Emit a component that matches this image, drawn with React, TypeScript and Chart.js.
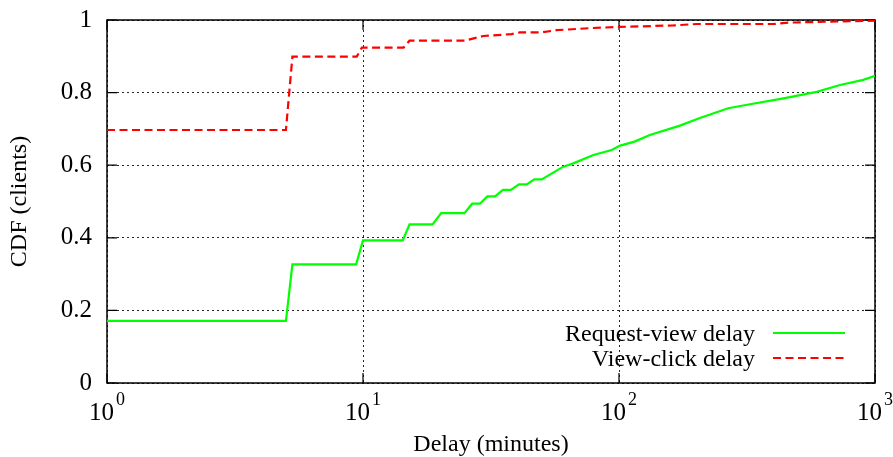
import React, { useEffect, useRef } from "react";
import { Chart, registerables } from "chart.js";

Chart.register(...registerables);

// ---- data ----
const reqViewX = [1, 5.0, 5.3, 9.4, 10, 14.3, 15.2, 18.7, 20.2, 24.9, 26.7, 28.6, 30.6, 32.8, 35.2, 37.8, 40.7, 43.6, 46.7, 49.9, 60.6, 66.3, 79.4, 93.6, 101, 115, 132, 173, 207, 267, 325, 439, 592, 730, 900, 1000];
const reqViewY = [0.171, 0.171, 0.327, 0.327, 0.393, 0.393, 0.437, 0.437, 0.468, 0.468, 0.494, 0.494, 0.514, 0.514, 0.532, 0.532, 0.547, 0.547, 0.561, 0.561, 0.596, 0.605, 0.628, 0.642, 0.654, 0.665, 0.683, 0.709, 0.730, 0.757, 0.768, 0.784, 0.802, 0.821, 0.835, 0.846];

const viewClickX = [1, 5.0, 5.3, 9.45, 9.9, 14.4, 15.2, 25, 29.5, 38, 41, 50, 57, 79, 101, 163, 201, 401, 466, 730, 1000];
const viewClickY = [0.697, 0.697, 0.899, 0.899, 0.924, 0.924, 0.943, 0.943, 0.956, 0.961, 0.966, 0.966, 0.972, 0.978, 0.981, 0.985, 0.989, 0.989, 0.993, 0.996, 0.998];

const seriesLabels = ["Request-view delay", "View-click delay"];
const xTickValues = [1, 10, 100, 1000];
const xTickExponents = ["0", "1", "2", "3"];
const yTickStep = 0.2;
const xTitle = "Delay (minutes)";
const yTitle = "CDF (clients)";

const FONT = "'Liberation Serif', 'Times New Roman', serif";
const GREEN = "#00ff00";
const RED = "#ff0000";
const RED_DASH = [8, 4.5];

const framePlugin = {
  id: "frame",
  beforeDatasetsDraw(chart: any) {
    const { ctx, chartArea: a, scales } = chart;
    ctx.save();
    ctx.strokeStyle = "#000";
    ctx.lineWidth = 1.5;
    ctx.setLineDash([]);
    ctx.strokeRect(a.left, a.top, a.right - a.left, a.bottom - a.top);
    ctx.lineWidth = 1.2;
    const tl = 10;
    scales.y.ticks.forEach((t: any) => {
      const y = scales.y.getPixelForValue(t.value);
      ctx.beginPath();
      ctx.moveTo(a.left, y);
      ctx.lineTo(a.left + tl, y);
      ctx.moveTo(a.right, y);
      ctx.lineTo(a.right - tl, y);
      ctx.stroke();
    });
    scales.x.ticks.forEach((t: any) => {
      const x = scales.x.getPixelForValue(t.value);
      ctx.beginPath();
      ctx.moveTo(x, a.bottom);
      ctx.lineTo(x, a.bottom - tl);
      ctx.moveTo(x, a.top);
      ctx.lineTo(x, a.top + tl);
      ctx.stroke();
    });
    ctx.restore();
  },
  afterDatasetsDraw(chart: any) {
    const { ctx } = chart;
    const colors = [GREEN, RED];
    const dashes = [[], RED_DASH];
    const ys = [333, 358];
    ctx.save();
    ctx.font = `24px ${FONT}`;
    ctx.fillStyle = "#000";
    ctx.textAlign = "right";
    ctx.textBaseline = "alphabetic";
    seriesLabels.forEach((lab, i) => {
      ctx.fillText(lab, 755, ys[i] + 8);
      ctx.beginPath();
      ctx.strokeStyle = colors[i];
      ctx.lineWidth = 2.2;
      ctx.setLineDash(dashes[i]);
      ctx.moveTo(773, ys[i]);
      ctx.lineTo(845, ys[i]);
      ctx.stroke();
    });
    ctx.restore();
  },
  afterDraw(chart: any) {
    const { ctx, scales } = chart;
    ctx.save();
    ctx.fillStyle = "#000";
    ctx.textBaseline = "alphabetic";
    ctx.textAlign = "left";
    xTickValues.forEach((v, i) => {
      const x = scales.x.getPixelForValue(v);
      ctx.font = `25px ${FONT}`;
      const w1 = ctx.measureText("10").width;
      ctx.font = `18px ${FONT}`;
      const w2 = ctx.measureText(xTickExponents[i]).width;
      const start = x - (w1 + w2 + 2) / 2;
      ctx.font = `25px ${FONT}`;
      ctx.fillText("10", start, 419.5);
      ctx.font = `18px ${FONT}`;
      ctx.fillText(xTickExponents[i], start + w1 + 2, 405);
    });
    ctx.restore();
  },
};

export default function App() {
  const ref = useRef<HTMLCanvasElement | null>(null);
  useEffect(() => {
    if (!ref.current) return;
    const grid = {
      color: "rgba(0,0,0,0.85)",
      lineWidth: 1,
      drawTicks: false,
    };
    const border = { display: false, dash: [2, 3] };
    const chart = new Chart(ref.current, {
      type: "scatter",
      data: {
        datasets: [
          {
            label: seriesLabels[0],
            data: reqViewX.map((x, i) => ({ x, y: reqViewY[i] })),
            showLine: true,
            borderColor: GREEN,
            borderWidth: 2.2,
            pointRadius: 0,
            tension: 0,
            fill: false,
          },
          {
            label: seriesLabels[1],
            data: viewClickX.map((x, i) => ({ x, y: viewClickY[i] })),
            showLine: true,
            borderColor: RED,
            borderWidth: 2.2,
            borderDash: RED_DASH,
            pointRadius: 0,
            tension: 0,
            fill: false,
          },
        ],
      },
      plugins: [framePlugin],
      options: {
        responsive: false,
        animation: false,
        events: [],
        layout: { padding: { left: 0, top: 20, right: 18, bottom: 0 } },
        plugins: { legend: { display: false }, tooltip: { enabled: false } },
        scales: {
          x: {
            type: "logarithmic",
            min: 1,
            max: 1000,
            afterBuildTicks: (scale: any) => {
              scale.ticks = xTickValues.map((v) => ({ value: v }));
            },
            afterFit: (scale: any) => {
              scale.height = 74;
              scale.paddingLeft = 0;
              scale.paddingRight = 0;
            },
            ticks: { display: false },
            grid,
            border,
            title: {
              display: true,
              text: xTitle,
              color: "#000",
              font: { family: FONT, size: 24, lineHeight: 1 },
              padding: { top: 0, bottom: 0 },
            },
          },
          y: {
            min: 0,
            max: 1,
            afterFit: (scale: any) => {
              scale.width = 107;
              scale.paddingTop = 0;
              scale.paddingBottom = 0;
            },
            ticks: {
              stepSize: yTickStep,
              padding: 15,
              color: "#000",
              font: { family: FONT, size: 25 },
              callback: (v: any) => {
                const n = Number(v);
                if (Math.abs(n) < 1e-9) return "0";
                if (Math.abs(n - 1) < 1e-9) return "1";
                return n.toFixed(1);
              },
            },
            grid,
            border,
            title: {
              display: true,
              text: yTitle,
              color: "#000",
              font: { family: FONT, size: 24, lineHeight: 1 },
              padding: { top: 7.5, bottom: 0 },
            },
          },
        },
      },
    } as any);
    return () => chart.destroy();
  }, []);
  return (
    <div style={{ position: "fixed", left: 0, top: 0, width: 893, height: 457, background: "#fff" }}>
      <canvas ref={ref} width={893} height={457} style={{ display: "block" }} />
    </div>
  );
}
